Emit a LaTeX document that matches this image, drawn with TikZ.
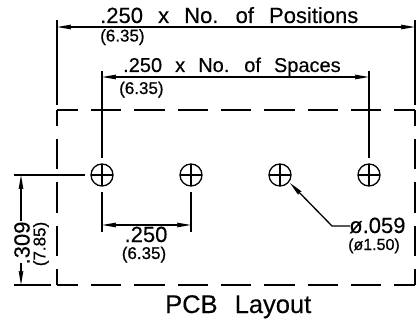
\documentclass[tikz,border=0pt]{standalone}
\usepackage{fontspec}
\setmainfont{Liberation Sans}
\newfontfamily\heavyf[FakeBold=0.6]{Liberation Sans}
\newfontfamily\semif[FakeBold=0.3]{Liberation Sans}
\usetikzlibrary{arrows.meta}
\tikzset{
  x=1pt,y=-1pt,
  cadline/.style={line width=1.3pt,black},
  dim/.style={cadline,{Stealth[length=14pt,width=4.6pt,inset=1pt]}-{Stealth[length=14pt,width=4.6pt,inset=1pt]}},
  tipend/.style={cadline,-{Stealth[length=14pt,width=4.6pt,inset=1pt]}},
  dashside/.style={line width=1.3pt,dash pattern=on 30.3pt off 13pt},
  txt/.style={inner sep=0pt,anchor=base west},
  big/.style={txt,font=\semif\fontsize{22}{24}\selectfont},
  mid/.style={txt,font=\semif\fontsize{20}{22}\selectfont},
  small/.style={txt,font=\heavyf\fontsize{17}{19}\selectfont},
  smaller/.style={txt,font=\heavyf\fontsize{16}{18}\selectfont},
  hole/.style={circle,draw,line width=1.3pt,minimum size=22pt,inner sep=0pt,
    path picture={\draw[line width=1.2pt] (path picture bounding box.north)--(path picture bounding box.south)
      (path picture bounding box.west)--(path picture bounding box.east);}}
}
\begin{document}
\begin{tikzpicture}
\useasboundingbox (0,0) rectangle (417,323);
% outline
\coordinate (TL) at (57,110); \coordinate (TR) at (415,110);
\coordinate (BL) at (57,285); \coordinate (BR) at (415,285);
\draw[dashside,dash phase=9.3pt] (TL)--(TR);
\draw[dashside,dash phase=9.3pt] (BL)--(BR);
\draw[dashside,dash phase=14.3pt] (TL)--(BL);
\draw[dashside,dash phase=14.3pt] (TR)--(BR);
% holes
\node[hole] (h1) at (102,175) {};
\node[hole] (h2) at (191,175) {};
\node[hole] (h3) at (280,175) {};
\node[hole] (h4) at (369,175) {};
% top dimension
\coordinate (a1) at (57,20); \coordinate (a2) at (57,105);
\coordinate (b1) at (415,20); \coordinate (b2) at (415,105);
\draw[cadline] (a1)--(a2) (b1)--(b2);
\coordinate (a3) at (57,27); \coordinate (b3) at (415,27);
\draw[dim] (a3)--(b3);
\node[big] (t1) at (100,23) {.250\hspace{9pt} x\hspace{9pt} No.\hspace{9pt} of\hspace{9pt} Positions};
\node[small] (t2) at (100,41.5) {(6.35)};
% second dimension
\coordinate (c1) at (102,71); \coordinate (d1) at (369,71);
\coordinate (c2) at (102,77); \coordinate (d2) at (369,77);
\draw[cadline] (c1)--(h1.north |- 0,158) (d1)--(h4.north |- 0,158);
\draw[dim] (c2)--(d2);
\node[mid] (t3) at (123,72) {.250\hspace{7.5pt} x\hspace{7.5pt} No.\hspace{7.5pt} of\hspace{7.5pt} Spaces};
\node[small] (t4) at (119,94) {(6.35)};
% spacing dimension
\coordinate (e1) at (102,192); \coordinate (e2) at (102,232);
\coordinate (f1) at (191,192); \coordinate (f2) at (191,232);
\draw[cadline] (e1)--(e2) (f1)--(f2);
\coordinate (e3) at (102,225); \coordinate (f3) at (191,225);
\draw[dim] (e3)--(f3);
\node[big,anchor=base] (t5) at (146,242) {.250};
\node[small,anchor=base] (t6) at (144,259) {(6.35)};
% height dimension
\coordinate (g1) at (14,175); \coordinate (g2) at (85,175);
\coordinate (g3) at (14,285); \coordinate (g4) at (51,285);
\draw[cadline] (g1)--(g2) (g3)--(g4);
\coordinate (i1) at (21,221); \coordinate (i2) at (21,175);
\coordinate (i3) at (21,263); \coordinate (i4) at (21,285);
\draw[tipend] (i1)--(i2);
\draw[tipend] (i3)--(i4);
\node[big,rotate=90,anchor=center] (t7) at (22,243) {.309};
\node[small,rotate=90,anchor=center] (t8) at (41,244) {(7.85)};
% leader
\coordinate (l1) at (350,226); \coordinate (l2) at (332,226); \coordinate (l3) at (290,183);
\draw[tipend] (l1)--(l2)--(l3);
\node[big] (t9) at (349,233) {ø.059};
\node[smaller] (t10) at (348,250) {(ø1.50)};
% title
\node[txt,font=\semif\fontsize{25.5}{28}\selectfont] (t11) at (165,313) {PCB\hspace{10pt} Layout};
\end{tikzpicture}
\end{document}
